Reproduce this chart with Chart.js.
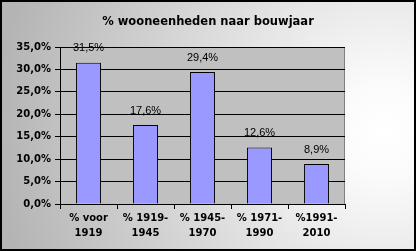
<!DOCTYPE html>
<html>
<head>
<meta charset="utf-8">
<script src="https://cdn.jsdelivr.net/npm/chart.js@4"></script>
<style>
  body { margin: 0; background: #fff; }
  canvas { display: block; }
</style>
</head>
<body>
<canvas id="myChart" width="416" height="251"></canvas>
<script>
'use strict'

var title = '% wooneenheden naar bouwjaar';
var categories = [['% voor', '1919'], ['% 1919-', '1945'], ['% 1945-', '1970'], ['% 1971-', '1990'], ['%1991-', '2010']];
var shares = [0.315, 0.176, 0.294, 0.126, 0.089];
var yTicks = [0, 0.05, 0.10, 0.15, 0.20, 0.25, 0.30, 0.35];

function pct(v) {
    return (Math.round(v * 1000) / 10).toFixed(1).replace('.', ',') + '%';
}

var backdrop = {
    id: 'backdrop',
    beforeDraw: function (chart) {
        var c = chart.ctx, w = chart.width, h = chart.height, a = chart.chartArea;
        c.save();
        var g = c.createRadialGradient(385, 130, 0, 385, 130, 390);
        g.addColorStop(0, '#ffffff');
        g.addColorStop(0.12, '#fbfbfb');
        g.addColorStop(1, '#b4b4b4');
        c.fillStyle = g;
        c.fillRect(0, 0, w, h);
        c.strokeStyle = '#000';
        c.lineWidth = 2;
        c.strokeRect(1, 1, w - 2, h - 2);
        c.fillStyle = '#c0c0c0';
        c.fillRect(a.left, a.top, a.right - a.left, a.bottom - a.top);
        c.strokeStyle = '#808080';
        c.lineWidth = 1;
        c.beginPath();
        c.moveTo(a.left, a.top + 0.5);
        c.lineTo(a.right - 0.5, a.top + 0.5);
        c.lineTo(a.right - 0.5, a.bottom);
        c.stroke();
        c.fillStyle = '#000';
        c.font = 'bold 11.5px "DejaVu Sans"';
        c.textAlign = 'center';
        c.textBaseline = 'middle';
        c.fillText(title, w / 2, 22);
        c.restore();
    },
    afterDatasetsDraw: function (chart) {
        var c = chart.ctx;
        var meta = chart.getDatasetMeta(0);
        c.save();
        c.fillStyle = '#000';
        c.font = '11px "Liberation Sans"';
        c.textAlign = 'center';
        c.textBaseline = 'bottom';
        meta.data.forEach(function (bar, i) {
            c.fillText(pct(shares[i]), bar.x, bar.y - 9);
        });
        c.restore();
    }
};

var ctx = document.getElementById('myChart').getContext('2d');

var myChart = new Chart(ctx, {
    type: 'bar',
    data: {
        labels: categories,
        datasets: [{
            data: shares,
            backgroundColor: '#9999ff',
            borderColor: '#000',
            borderWidth: 1,
            categoryPercentage: 0.88,
            barPercentage: 0.5
        }]
    },
    plugins: [backdrop],
    options: {
        responsive: false,
        animation: false,
        layout: { padding: { left: 0, right: 71, top: 47, bottom: 0 } },
        plugins: {
            legend: { display: false },
            title: { display: false },
            tooltip: { enabled: false }
        },
        scales: {
            x: {
                afterFit: function (axis) { axis.height = 47; },
                border: { color: '#000' },
                grid: { drawOnChartArea: false, offset: true, color: '#000', tickLength: 5 },
                ticks: {
                    color: '#000',
                    padding: 2,
                    maxRotation: 0,
                    font: { family: 'DejaVu Sans', size: 10, weight: 'bold', lineHeight: 1.5 }
                }
            },
            y: {
                min: 0,
                max: 0.35,
                afterFit: function (axis) { axis.width = 60; },
                afterBuildTicks: function (axis) {
                    axis.ticks = yTicks.map(function (v) { return { value: v }; });
                },
                border: { color: '#000' },
                grid: { color: '#000', tickLength: 5 },
                ticks: {
                    color: '#000',
                    padding: 4,
                    font: { family: 'DejaVu Sans', size: 10, weight: 'bold' },
                    callback: function (v) { return pct(v); }
                }
            }
        }
    }
});
</script>
</body>
</html>
